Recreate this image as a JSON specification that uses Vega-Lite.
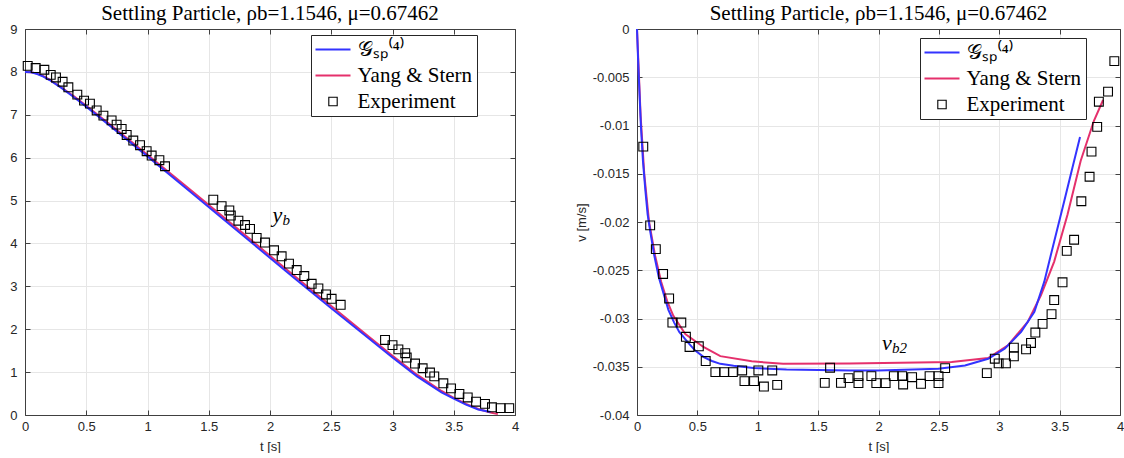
{
  "$schema": "https://vega.github.io/schema/vega-lite/v6.json",
  "padding": {"left": 9, "top": 3, "right": 0, "bottom": 0},
  "spacing": 56,
  "datasets": {
    "leftBlue": [
      {"series": "𝒢ₛₚ⁽⁴⁾", "t": 0, "y": 8.0}, {"series": "𝒢ₛₚ⁽⁴⁾", "t": 0.05, "y": 7.99}, {"series": "𝒢ₛₚ⁽⁴⁾", "t": 0.1, "y": 7.95},
      {"series": "𝒢ₛₚ⁽⁴⁾", "t": 0.15, "y": 7.89}, {"series": "𝒢ₛₚ⁽⁴⁾", "t": 0.2, "y": 7.81}, {"series": "𝒢ₛₚ⁽⁴⁾", "t": 0.3, "y": 7.62},
      {"series": "𝒢ₛₚ⁽⁴⁾", "t": 0.4, "y": 7.41}, {"series": "𝒢ₛₚ⁽⁴⁾", "t": 0.5, "y": 7.19}, {"series": "𝒢ₛₚ⁽⁴⁾", "t": 0.7, "y": 6.73},
      {"series": "𝒢ₛₚ⁽⁴⁾", "t": 1.0, "y": 6.03}, {"series": "𝒢ₛₚ⁽⁴⁾", "t": 1.3, "y": 5.32}, {"series": "𝒢ₛₚ⁽⁴⁾", "t": 1.6, "y": 4.61},
      {"series": "𝒢ₛₚ⁽⁴⁾", "t": 1.9, "y": 3.9}, {"series": "𝒢ₛₚ⁽⁴⁾", "t": 2.2, "y": 3.19}, {"series": "𝒢ₛₚ⁽⁴⁾", "t": 2.5, "y": 2.49},
      {"series": "𝒢ₛₚ⁽⁴⁾", "t": 2.8, "y": 1.8}, {"series": "𝒢ₛₚ⁽⁴⁾", "t": 3.0, "y": 1.34}, {"series": "𝒢ₛₚ⁽⁴⁾", "t": 3.2, "y": 0.9},
      {"series": "𝒢ₛₚ⁽⁴⁾", "t": 3.4, "y": 0.53}, {"series": "𝒢ₛₚ⁽⁴⁾", "t": 3.5, "y": 0.38}, {"series": "𝒢ₛₚ⁽⁴⁾", "t": 3.6, "y": 0.24},
      {"series": "𝒢ₛₚ⁽⁴⁾", "t": 3.7, "y": 0.13}, {"series": "𝒢ₛₚ⁽⁴⁾", "t": 3.8, "y": 0.07}
    ],
    "leftPink": [
      {"series": "Yang & Stern", "t": 0, "y": 8.0}, {"series": "Yang & Stern", "t": 0.05, "y": 7.99}, {"series": "Yang & Stern", "t": 0.1, "y": 7.96},
      {"series": "Yang & Stern", "t": 0.15, "y": 7.9}, {"series": "Yang & Stern", "t": 0.2, "y": 7.82}, {"series": "Yang & Stern", "t": 0.3, "y": 7.63},
      {"series": "Yang & Stern", "t": 0.4, "y": 7.43}, {"series": "Yang & Stern", "t": 0.5, "y": 7.21}, {"series": "Yang & Stern", "t": 0.7, "y": 6.76},
      {"series": "Yang & Stern", "t": 1.0, "y": 6.07}, {"series": "Yang & Stern", "t": 1.3, "y": 5.37}, {"series": "Yang & Stern", "t": 1.6, "y": 4.66},
      {"series": "Yang & Stern", "t": 1.9, "y": 3.95}, {"series": "Yang & Stern", "t": 2.2, "y": 3.24}, {"series": "Yang & Stern", "t": 2.5, "y": 2.54},
      {"series": "Yang & Stern", "t": 2.8, "y": 1.84}, {"series": "Yang & Stern", "t": 3.0, "y": 1.38}, {"series": "Yang & Stern", "t": 3.2, "y": 0.94},
      {"series": "Yang & Stern", "t": 3.4, "y": 0.56}, {"series": "Yang & Stern", "t": 3.5, "y": 0.4}, {"series": "Yang & Stern", "t": 3.6, "y": 0.26},
      {"series": "Yang & Stern", "t": 3.7, "y": 0.14}, {"series": "Yang & Stern", "t": 3.8, "y": 0.06}, {"series": "Yang & Stern", "t": 3.86, "y": 0.02}
    ],
    "leftExp": [
      {"t": 0.022, "y": 8.14}, {"t": 0.087, "y": 8.09}, {"t": 0.158, "y": 8.05}, {"t": 0.21, "y": 7.93}, {"t": 0.253, "y": 7.87},
      {"t": 0.307, "y": 7.77}, {"t": 0.354, "y": 7.64}, {"t": 0.427, "y": 7.47}, {"t": 0.482, "y": 7.33}, {"t": 0.53, "y": 7.26},
      {"t": 0.585, "y": 7.1}, {"t": 0.64, "y": 6.98}, {"t": 0.707, "y": 6.87}, {"t": 0.748, "y": 6.77}, {"t": 0.789, "y": 6.67},
      {"t": 0.83, "y": 6.53}, {"t": 0.884, "y": 6.4}, {"t": 0.939, "y": 6.29}, {"t": 0.993, "y": 6.15}, {"t": 1.034, "y": 6.05},
      {"t": 1.097, "y": 5.94}, {"t": 1.143, "y": 5.8}, {"t": 1.537, "y": 5.02}, {"t": 1.605, "y": 4.87}, {"t": 1.668, "y": 4.77},
      {"t": 1.68, "y": 4.65}, {"t": 1.742, "y": 4.53}, {"t": 1.796, "y": 4.43}, {"t": 1.837, "y": 4.34}, {"t": 1.891, "y": 4.13},
      {"t": 1.959, "y": 4.02}, {"t": 2.033, "y": 3.84}, {"t": 2.095, "y": 3.7}, {"t": 2.155, "y": 3.53}, {"t": 2.218, "y": 3.38},
      {"t": 2.28, "y": 3.24}, {"t": 2.34, "y": 3.06}, {"t": 2.395, "y": 2.95}, {"t": 2.457, "y": 2.81}, {"t": 2.503, "y": 2.71},
      {"t": 2.577, "y": 2.57}, {"t": 2.939, "y": 1.75}, {"t": 3.0, "y": 1.63}, {"t": 3.048, "y": 1.53}, {"t": 3.104, "y": 1.44},
      {"t": 3.116, "y": 1.34}, {"t": 3.184, "y": 1.2}, {"t": 3.246, "y": 1.09}, {"t": 3.306, "y": 0.99}, {"t": 3.341, "y": 0.9},
      {"t": 3.415, "y": 0.74}, {"t": 3.478, "y": 0.62}, {"t": 3.546, "y": 0.49}, {"t": 3.614, "y": 0.41}, {"t": 3.682, "y": 0.31},
      {"t": 3.755, "y": 0.26}, {"t": 3.812, "y": 0.18}, {"t": 3.883, "y": 0.16}, {"t": 3.953, "y": 0.16}
    ],
    "leftLabel": [{"t": 2.02, "y": 4.5, "main": "y", "sub": "b"}],
    "rightBlue": [
      {"series": "𝒢ₛₚ⁽⁴⁾", "t": 0, "v": 0}, {"series": "𝒢ₛₚ⁽⁴⁾", "t": 0.01, "v": -0.0035}, {"series": "𝒢ₛₚ⁽⁴⁾", "t": 0.02, "v": -0.0065},
      {"series": "𝒢ₛₚ⁽⁴⁾", "t": 0.033, "v": -0.0102}, {"series": "𝒢ₛₚ⁽⁴⁾", "t": 0.05, "v": -0.0138}, {"series": "𝒢ₛₚ⁽⁴⁾", "t": 0.07, "v": -0.0168},
      {"series": "𝒢ₛₚ⁽⁴⁾", "t": 0.088, "v": -0.0192}, {"series": "𝒢ₛₚ⁽⁴⁾", "t": 0.11, "v": -0.021}, {"series": "𝒢ₛₚ⁽⁴⁾", "t": 0.142, "v": -0.0234},
      {"series": "𝒢ₛₚ⁽⁴⁾", "t": 0.18, "v": -0.0257}, {"series": "𝒢ₛₚ⁽⁴⁾", "t": 0.224, "v": -0.0276}, {"series": "𝒢ₛₚ⁽⁴⁾", "t": 0.26, "v": -0.0291},
      {"series": "𝒢ₛₚ⁽⁴⁾", "t": 0.307, "v": -0.0304}, {"series": "𝒢ₛₚ⁽⁴⁾", "t": 0.35, "v": -0.0314}, {"series": "𝒢ₛₚ⁽⁴⁾", "t": 0.416, "v": -0.0324},
      {"series": "𝒢ₛₚ⁽⁴⁾", "t": 0.48, "v": -0.0333}, {"series": "𝒢ₛₚ⁽⁴⁾", "t": 0.553, "v": -0.034}, {"series": "𝒢ₛₚ⁽⁴⁾", "t": 0.62, "v": -0.0344},
      {"series": "𝒢ₛₚ⁽⁴⁾", "t": 0.69, "v": -0.0347}, {"series": "𝒢ₛₚ⁽⁴⁾", "t": 0.8, "v": -0.0349}, {"series": "𝒢ₛₚ⁽⁴⁾", "t": 0.964, "v": -0.03514},
      {"series": "𝒢ₛₚ⁽⁴⁾", "t": 1.238, "v": -0.03528}, {"series": "𝒢ₛₚ⁽⁴⁾", "t": 1.758, "v": -0.03538}, {"series": "𝒢ₛₚ⁽⁴⁾", "t": 2.0, "v": -0.03538},
      {"series": "𝒢ₛₚ⁽⁴⁾", "t": 2.497, "v": -0.03521}, {"series": "𝒢ₛₚ⁽⁴⁾", "t": 2.716, "v": -0.03486}, {"series": "𝒢ₛₚ⁽⁴⁾", "t": 2.908, "v": -0.03417},
      {"series": "𝒢ₛₚ⁽⁴⁾", "t": 3.045, "v": -0.03313}, {"series": "𝒢ₛₚ⁽⁴⁾", "t": 3.181, "v": -0.03139}, {"series": "𝒢ₛₚ⁽⁴⁾", "t": 3.291, "v": -0.0293},
      {"series": "𝒢ₛₚ⁽⁴⁾", "t": 3.373, "v": -0.02618}, {"series": "𝒢ₛₚ⁽⁴⁾", "t": 3.455, "v": -0.02201}, {"series": "𝒢ₛₚ⁽⁴⁾", "t": 3.538, "v": -0.01785},
      {"series": "𝒢ₛₚ⁽⁴⁾", "t": 3.606, "v": -0.01438}, {"series": "𝒢ₛₚ⁽⁴⁾", "t": 3.669, "v": -0.01118}
    ],
    "rightPink": [
      {"series": "Yang & Stern", "t": 0, "v": 0}, {"series": "Yang & Stern", "t": 0.01, "v": -0.003}, {"series": "Yang & Stern", "t": 0.03, "v": -0.009},
      {"series": "Yang & Stern", "t": 0.06, "v": -0.015}, {"series": "Yang & Stern", "t": 0.1, "v": -0.02}, {"series": "Yang & Stern", "t": 0.15, "v": -0.0235},
      {"series": "Yang & Stern", "t": 0.2, "v": -0.0262}, {"series": "Yang & Stern", "t": 0.25, "v": -0.0282}, {"series": "Yang & Stern", "t": 0.3, "v": -0.0297},
      {"series": "Yang & Stern", "t": 0.4, "v": -0.0316}, {"series": "Yang & Stern", "t": 0.55, "v": -0.03295}, {"series": "Yang & Stern", "t": 0.69, "v": -0.0339},
      {"series": "Yang & Stern", "t": 0.95, "v": -0.03444}, {"series": "Yang & Stern", "t": 1.21, "v": -0.03469}, {"series": "Yang & Stern", "t": 1.758, "v": -0.03467},
      {"series": "Yang & Stern", "t": 2.606, "v": -0.03451}, {"series": "Yang & Stern", "t": 2.908, "v": -0.0341}, {"series": "Yang & Stern", "t": 3.072, "v": -0.03278},
      {"series": "Yang & Stern", "t": 3.236, "v": -0.03035}, {"series": "Yang & Stern", "t": 3.346, "v": -0.02757}, {"series": "Yang & Stern", "t": 3.455, "v": -0.0241},
      {"series": "Yang & Stern", "t": 3.565, "v": -0.01924}, {"series": "Yang & Stern", "t": 3.674, "v": -0.01368}, {"series": "Yang & Stern", "t": 3.784, "v": -0.00951},
      {"series": "Yang & Stern", "t": 3.86, "v": -0.00736}
    ],
    "rightExp": [
      {"t": 0.052, "v": -0.01219}, {"t": 0.109, "v": -0.02035}, {"t": 0.156, "v": -0.02281}, {"t": 0.216, "v": -0.02538},
      {"t": 0.266, "v": -0.02792}, {"t": 0.293, "v": -0.03042}, {"t": 0.367, "v": -0.03042}, {"t": 0.405, "v": -0.0319},
      {"t": 0.435, "v": -0.03295}, {"t": 0.512, "v": -0.03288}, {"t": 0.569, "v": -0.03441}, {"t": 0.649, "v": -0.03556},
      {"t": 0.723, "v": -0.03556}, {"t": 0.794, "v": -0.03556}, {"t": 0.871, "v": -0.03538}, {"t": 0.89, "v": -0.03649},
      {"t": 0.969, "v": -0.03649}, {"t": 1.005, "v": -0.03538}, {"t": 1.051, "v": -0.03705}, {"t": 1.12, "v": -0.03538},
      {"t": 1.161, "v": -0.03688}, {"t": 1.555, "v": -0.03667}, {"t": 1.599, "v": -0.0351}, {"t": 1.689, "v": -0.03667},
      {"t": 1.752, "v": -0.03618}, {"t": 1.834, "v": -0.03597}, {"t": 1.834, "v": -0.0367}, {"t": 1.941, "v": -0.03597},
      {"t": 1.982, "v": -0.0367}, {"t": 2.059, "v": -0.0367}, {"t": 2.127, "v": -0.03597}, {"t": 2.196, "v": -0.03597},
      {"t": 2.204, "v": -0.03684}, {"t": 2.278, "v": -0.03608}, {"t": 2.352, "v": -0.03677}, {"t": 2.423, "v": -0.03597},
      {"t": 2.497, "v": -0.03597}, {"t": 2.497, "v": -0.0367}, {"t": 2.552, "v": -0.03514}, {"t": 2.897, "v": -0.03566},
      {"t": 2.963, "v": -0.03417}, {"t": 2.995, "v": -0.03465}, {"t": 3.055, "v": -0.03465}, {"t": 3.121, "v": -0.03392},
      {"t": 3.121, "v": -0.03302}, {"t": 3.222, "v": -0.0332}, {"t": 3.263, "v": -0.03253}, {"t": 3.299, "v": -0.03146},
      {"t": 3.359, "v": -0.03056}, {"t": 3.433, "v": -0.02955}, {"t": 3.455, "v": -0.02809}, {"t": 3.524, "v": -0.02625},
      {"t": 3.559, "v": -0.02299}, {"t": 3.62, "v": -0.02184}, {"t": 3.68, "v": -0.01785}, {"t": 3.748, "v": -0.01531},
      {"t": 3.764, "v": -0.01271}, {"t": 3.811, "v": -0.01014}, {"t": 3.825, "v": -0.00753}, {"t": 3.901, "v": -0.00649},
      {"t": 3.953, "v": -0.00333}
    ],
    "rightLabel": [{"t": 2.03, "v": -0.0333, "main": "v", "sub": "b2"}]
  },
  "hconcat": [
    {
      "width": 490,
      "height": 386,
      "title": {"text": "Settling Particle, ρb=1.1546, μ=0.67462", "offset": -1},
      "layer": [
        {
          "data": {"name": "leftPink"},
          "mark": {"type": "line", "strokeWidth": 2},
          "encoding": {
            "x": {"field": "t", "type": "quantitative", "scale": {"domain": [0, 4], "nice": false},
                  "axis": {"orient": "bottom", "values": [0, 0.5, 1, 1.5, 2, 2.5, 3, 3.5, 4], "format": "~g", "grid": true, "title": "t [s]"}},
            "y": {"field": "y", "type": "quantitative", "scale": {"domain": [0, 9], "nice": false},
                  "axis": {"orient": "left", "values": [0, 1, 2, 3, 4, 5, 6, 7, 8, 9], "format": "~g", "grid": true, "title": null}},
            "color": {"field": "series", "type": "nominal",
                      "scale": {"domain": ["𝒢ₛₚ⁽⁴⁾", "Yang & Stern", "Experiment"], "range": ["#3333ff", "#e5306c", "#000000"]},
                      "legend": {"legendX": 286, "legendY": 6,
                        "encode": {"symbols": {"update": {
                          "shape": {"signal": "datum.value === 'Experiment' ? 'M-0.24,-0.24H0.24V0.24H-0.24Z' : 'stroke'"},
                          "size": {"value": 1225},
                          "strokeWidth": {"signal": "datum.value === 'Experiment' ? 1.1 : 2"},
                          "fill": {"value": "transparent"}}}}}}
          }
        },
        {
          "data": {"name": "leftBlue"},
          "mark": {"type": "line", "strokeWidth": 2},
          "encoding": {
            "x": {"field": "t", "type": "quantitative", "scale": {"domain": [0, 4], "nice": false}, "axis": null},
            "y": {"field": "y", "type": "quantitative", "scale": {"domain": [0, 9], "nice": false}, "axis": null},
            "color": {"field": "series", "type": "nominal",
                      "scale": {"domain": ["𝒢ₛₚ⁽⁴⁾", "Yang & Stern", "Experiment"], "range": ["#3333ff", "#e5306c", "#000000"]}}
          }
        },
        {
          "data": {"name": "leftExp"},
          "mark": {"type": "point", "shape": "square", "filled": false, "color": "#000000", "size": 78, "strokeWidth": 1.1, "opacity": 1},
          "encoding": {
            "x": {"field": "t", "type": "quantitative", "scale": {"domain": [0, 4], "nice": false},
                  "axis": {"orient": "top", "values": [0, 0.5, 1, 1.5, 2, 2.5, 3, 3.5, 4], "labels": false, "grid": false, "title": null}},
            "y": {"field": "y", "type": "quantitative", "scale": {"domain": [0, 9], "nice": false},
                  "axis": {"orient": "right", "values": [0, 1, 2, 3, 4, 5, 6, 7, 8, 9], "labels": false, "grid": false, "title": null}}
          }
        },
        {
          "data": {"name": "leftLabel"},
          "mark": {"type": "text", "font": "Liberation Serif", "fontStyle": "italic", "fontSize": 22, "align": "left", "baseline": "alphabetic", "color": "#000000"},
          "encoding": {
            "x": {"field": "t", "type": "quantitative", "scale": {"domain": [0, 4], "nice": false}, "axis": null},
            "y": {"field": "y", "type": "quantitative", "scale": {"domain": [0, 9], "nice": false}, "axis": null},
            "text": {"field": "main"}
          }
        },
        {
          "data": {"name": "leftLabel"},
          "mark": {"type": "text", "font": "Liberation Serif", "fontStyle": "italic", "fontSize": 15, "align": "left", "baseline": "alphabetic", "dx": 10, "dy": 3, "color": "#000000"},
          "encoding": {
            "x": {"field": "t", "type": "quantitative", "scale": {"domain": [0, 4], "nice": false}, "axis": null},
            "y": {"field": "y", "type": "quantitative", "scale": {"domain": [0, 9], "nice": false}, "axis": null},
            "text": {"field": "sub"}
          }
        }
      ],
      "resolve": {"axis": {"x": "independent", "y": "independent"}}
    },
    {
      "width": 483,
      "height": 386,
      "title": {"text": "Settling Particle, ρb=1.1546, μ=0.67462", "offset": -1},
      "layer": [
        {
          "data": {"name": "rightPink"},
          "mark": {"type": "line", "strokeWidth": 2},
          "encoding": {
            "x": {"field": "t", "type": "quantitative", "scale": {"domain": [0, 4], "nice": false},
                  "axis": {"orient": "bottom", "values": [0, 0.5, 1, 1.5, 2, 2.5, 3, 3.5, 4], "format": "~g", "grid": true, "title": "t [s]"}},
            "y": {"field": "v", "type": "quantitative", "scale": {"domain": [-0.04, 0], "nice": false},
                  "axis": {"orient": "left", "values": [0, -0.005, -0.01, -0.015, -0.02, -0.025, -0.03, -0.035, -0.04], "grid": true, "title": "v [m/s]",
                           "labelExpr": "datum.value == 0 ? '0' : '-' + format(-datum.value, '~g')"}},
            "color": {"field": "series", "type": "nominal",
                      "scale": {"domain": ["𝒢ₛₚ⁽⁴⁾", "Yang & Stern", "Experiment"], "range": ["#3333ff", "#e5306c", "#000000"]},
                      "legend": {"legendX": 283, "legendY": 9,
                        "encode": {"symbols": {"update": {
                          "shape": {"signal": "datum.value === 'Experiment' ? 'M-0.24,-0.24H0.24V0.24H-0.24Z' : 'stroke'"},
                          "size": {"value": 1225},
                          "strokeWidth": {"signal": "datum.value === 'Experiment' ? 1.1 : 2"},
                          "fill": {"value": "transparent"}}}}}}
          }
        },
        {
          "data": {"name": "rightBlue"},
          "mark": {"type": "line", "strokeWidth": 2},
          "encoding": {
            "x": {"field": "t", "type": "quantitative", "scale": {"domain": [0, 4], "nice": false}, "axis": null},
            "y": {"field": "v", "type": "quantitative", "scale": {"domain": [-0.04, 0], "nice": false}, "axis": null},
            "color": {"field": "series", "type": "nominal",
                      "scale": {"domain": ["𝒢ₛₚ⁽⁴⁾", "Yang & Stern", "Experiment"], "range": ["#3333ff", "#e5306c", "#000000"]}}
          }
        },
        {
          "data": {"name": "rightExp"},
          "mark": {"type": "point", "shape": "square", "filled": false, "color": "#000000", "size": 78, "strokeWidth": 1.1, "opacity": 1},
          "encoding": {
            "x": {"field": "t", "type": "quantitative", "scale": {"domain": [0, 4], "nice": false},
                  "axis": {"orient": "top", "values": [0, 0.5, 1, 1.5, 2, 2.5, 3, 3.5, 4], "labels": false, "grid": false, "title": null}},
            "y": {"field": "v", "type": "quantitative", "scale": {"domain": [-0.04, 0], "nice": false},
                  "axis": {"orient": "right", "values": [0, -0.005, -0.01, -0.015, -0.02, -0.025, -0.03, -0.035, -0.04], "labels": false, "grid": false, "title": null}}
          }
        },
        {
          "data": {"name": "rightLabel"},
          "mark": {"type": "text", "font": "Liberation Serif", "fontStyle": "italic", "fontSize": 22, "align": "left", "baseline": "alphabetic", "color": "#000000"},
          "encoding": {
            "x": {"field": "t", "type": "quantitative", "scale": {"domain": [0, 4], "nice": false}, "axis": null},
            "y": {"field": "v", "type": "quantitative", "scale": {"domain": [-0.04, 0], "nice": false}, "axis": null},
            "text": {"field": "main"}
          }
        },
        {
          "data": {"name": "rightLabel"},
          "mark": {"type": "text", "font": "Liberation Serif", "fontStyle": "italic", "fontSize": 15, "align": "left", "baseline": "alphabetic", "dx": 10, "dy": 3, "color": "#000000"},
          "encoding": {
            "x": {"field": "t", "type": "quantitative", "scale": {"domain": [0, 4], "nice": false}, "axis": null},
            "y": {"field": "v", "type": "quantitative", "scale": {"domain": [-0.04, 0], "nice": false}, "axis": null},
            "text": {"field": "sub"}
          }
        }
      ],
      "resolve": {"axis": {"x": "independent", "y": "independent"}}
    }
  ],
  "resolve": {"scale": {"x": "independent", "y": "independent", "color": "independent"}, "legend": {"color": "independent"}},
  "config": {
    "view": {"stroke": null},
    "axis": {
      "labelFont": "Liberation Sans", "labelFontSize": 13, "labelColor": "#262626", "labelFlush": false, "labelOverlap": false,
      "titleFont": "Liberation Sans", "titleFontSize": 13, "titleFontWeight": "normal", "titleColor": "#262626",
      "domainColor": "#404040", "domainWidth": 1, "tickColor": "#404040", "tickWidth": 1, "tickSize": -5,
      "gridColor": "#e6e6e6", "gridWidth": 1, "gridOpacity": 1, "labelPadding": 13
    },
    "axisX": {"labelPadding": 10, "titlePadding": 7},
    "axisY": {"titlePadding": 4},
    "title": {"font": "Liberation Serif", "fontSize": 21, "fontWeight": "normal", "color": "#000000", "anchor": "middle"},
    "legend": {
      "orient": "none", "title": null,
      "labelFont": "Liberation Serif", "labelFontSize": 21, "labelColor": "#000000", "labelOffset": 14, "labelLimit": 300,
      "symbolType": "stroke", "symbolSize": 1225, "symbolStrokeWidth": 2, "symbolOffset": 7.5,
      "strokeColor": "#262626", "fillColor": "#ffffff", "padding": 4, "rowPadding": 4
    }
  }
}
